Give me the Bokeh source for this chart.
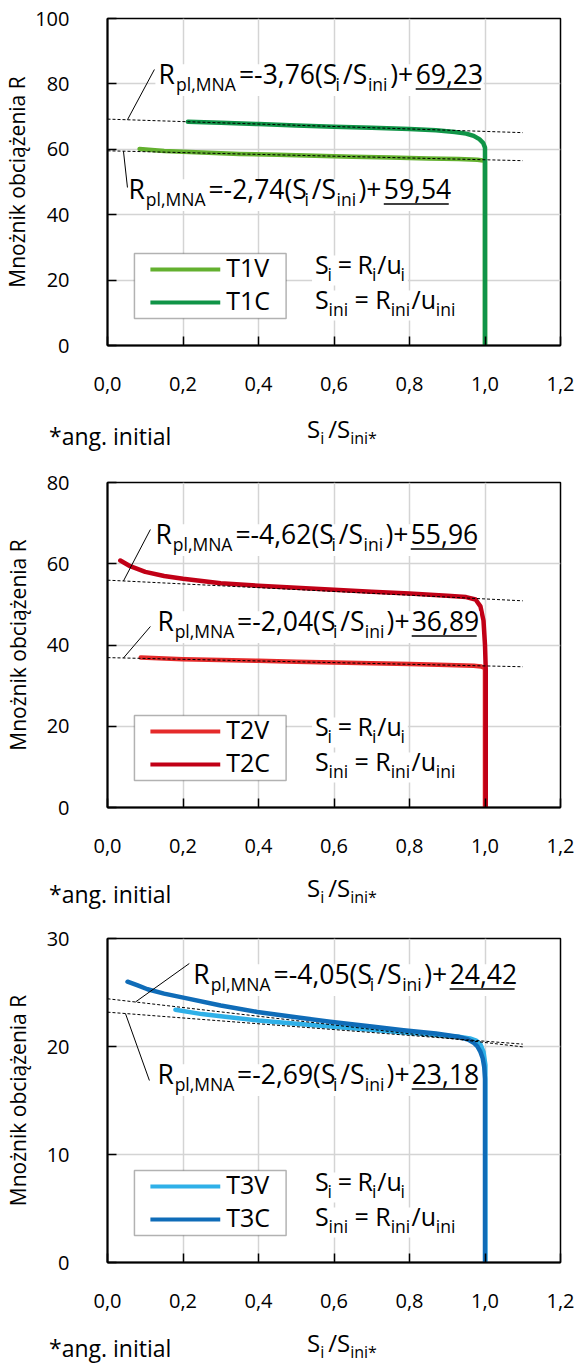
from bokeh.plotting import figure
from bokeh.models import Range1d, FixedTicker, Label, BoxAnnotation, Div
from bokeh.layouts import column
from bokeh.embed import file_html
from bokeh.resources import INLINE

FONT = "Open Sans"

# ---------------- data ----------------
x_ticks = [0.0, 0.2, 0.4, 0.6, 0.8, 1.0, 1.2]
x_tick_labels = ["0,0", "0,2", "0,4", "0,6", "0,8", "1,0", "1,2"]
fit_x_end = 1.1
y_axis_title = "Mnożnik obciążenia R"
note_text = "*ang. initial"

# panel 1
p1_y_ticks = [0, 20, 40, 60, 80, 100]
t1v_x = [0.085, 0.15, 0.25, 0.35, 0.45, 0.55, 0.65, 0.75, 0.85, 0.93, 0.98, 0.995, 1.0, 1.0]
t1v_y = [60.1, 59.5, 59.0, 58.6, 58.3, 58.0, 57.75, 57.5, 57.2, 57.0, 56.8, 56.6, 56.3, 0.0]
t1c_x = [0.213, 0.3, 0.4, 0.5, 0.6, 0.7, 0.8, 0.87, 0.92, 0.95, 0.97, 0.985, 0.995, 1.0, 1.0]
t1c_y = [68.4, 68.1, 67.7, 67.3, 66.9, 66.6, 66.2, 65.8, 65.3, 64.8, 64.1, 63.1, 62.0, 60.5, 0.0]
p1_fit_slope = [-3.76, -2.74]      # upper (C), lower (V)
p1_fit_intercept = [69.23, 59.54]

# panel 2
p2_y_ticks = [0, 20, 40, 60, 80]
t2v_x = [0.088, 0.2, 0.3, 0.4, 0.5, 0.6, 0.7, 0.8, 0.9, 0.97, 0.99, 1.0, 1.0]
t2v_y = [36.9, 36.5, 36.3, 36.1, 35.9, 35.7, 35.5, 35.3, 35.05, 34.9, 34.7, 34.3, 0.0]
t2c_x = [0.034, 0.06, 0.1, 0.15, 0.2, 0.3, 0.4, 0.5, 0.6, 0.7, 0.8, 0.9, 0.95, 0.975, 0.988, 0.996, 1.0, 1.002, 1.002]
t2c_y = [60.8, 59.4, 58.0, 57.0, 56.3, 55.2, 54.6, 54.1, 53.6, 53.1, 52.65, 52.1, 51.8, 51.2, 49.5, 46.0, 40.0, 34.0, 0.0]
p2_fit_slope = [-4.62, -2.04]
p2_fit_intercept = [55.96, 36.89]

# panel 3
p3_y_ticks = [0, 10, 20, 30]
t3v_x = [0.18, 0.25, 0.3, 0.4, 0.5, 0.59, 0.7, 0.784, 0.86, 0.93, 0.96, 0.977, 0.988, 0.996, 1.001, 1.001]
t3v_y = [23.4, 23.0, 22.8, 22.4, 22.1, 21.85, 21.55, 21.3, 21.1, 20.9, 20.75, 20.55, 20.2, 19.5, 18.3, 0.0]
t3c_x = [0.053, 0.08, 0.106, 0.15, 0.204, 0.3, 0.397, 0.5, 0.59, 0.7, 0.784, 0.87, 0.929, 0.955, 0.97, 0.98, 0.988, 0.994, 0.998, 1.0, 1.0]
t3c_y = [26.0, 25.65, 25.3, 24.9, 24.5, 23.8, 23.2, 22.7, 22.3, 21.85, 21.5, 21.2, 20.9, 20.65, 20.35, 20.0, 19.5, 18.9, 18.1, 17.0, 0.0]
p3_fit_slope = [-4.05, -2.69]
p3_fit_intercept = [24.42, 23.18]

# ---------------- styling / layout ----------------
WID = {c: 0.572 for c in "0123456789"}
WID.update({',': .245, '.': .266, ' ': .26, '(': .296, ')': .296, '+': .572, '=': .572,
            '-': .322, '/': .367, '*': .551, 'R': .62, 'S': .539, 'M': .903, 'N': .756,
            'A': .633, 'p': .613, 'l': .253, 'i': .253, 'n': .614, 'u': .614})
SHIFT = 0.45   # compensation of the label baseline placement (em)


def tw(s, size):
    return sum(WID.get(c, .56) for c in s) * size * 0.97


L, FW, XMAX = 106, 454, 1.2


class Conv:
    def __init__(self, top, h, ymax):
        self.top, self.h, self.ymax = top, h, ymax

    def x(self, px):
        return (px - L) / FW * XMAX

    def y(self, py):
        return (self.top + self.h - py) / self.h * self.ymax


def fmt(v):
    return f"{v:.2f}".replace(".", ",")


def add_label(p, cv, xpx, ypx, text, size, align="left"):
    p.add_layout(Label(x=cv.x(xpx), y=cv.y(ypx - SHIFT * size), text=text, text_font=FONT,
                       text_font_size=f"{size}px", text_baseline="alphabetic",
                       text_align=align, text_color="black"))


def rich(p, cv, x0, base, pieces, main, sub, drop, right=None, bg=False):
    """pieces: (text, kind, pre_gap_in_px)"""
    sizes = {'m': main, 's': sub}
    widths = [tw(t, sizes[k]) for t, k, g in pieces]
    pre = [g for t, k, g in pieces]
    natural = sum(widths) + sum(pre[1:])
    gap = 0.0
    if right is not None and len(pieces) > 1:
        gap = (right - x0 - natural) / (len(pieces) - 1)
    total = natural + gap * (len(pieces) - 1)
    if bg:
        p.add_layout(BoxAnnotation(left=cv.x(x0 - 3), right=cv.x(x0 + total + 3),
                                   top=cv.y(base - main * 0.8), bottom=cv.y(base + drop + 4),
                                   fill_color="white", fill_alpha=1.0, line_color=None))
    spans = []
    x = x0
    for i, (t, k, g) in enumerate(pieces):
        if i > 0:
            x += gap + g
        add_label(p, cv, x, base + (drop if k == 's' else 0), t, sizes[k])
        spans.append((x, x + widths[i]))
        x += widths[i]
    return spans


def html_text(left, base, size, inner):
    top = base - 0.888 * size
    return (f'<span style="position:absolute;left:{left}px;top:{top:.1f}px;'
            f'font-family:\'{FONT}\';font-size:{size}px;line-height:1;white-space:nowrap;'
            f'color:black">{inner}</span>')


def sub_html(t, size, drop):
    return (f'<span style="font-size:{size}px;position:relative;top:{drop}px;'
            f'line-height:1">{t}</span>')


MAIN_BOTTOM = 62
panels = [
    dict(top=0, ftop=18, fh=327, ymax=100, ticks=p1_y_ticks, lab_standoff=4,
         series=[("T1V", t1v_x, t1v_y, "#63b02f"), ("T1C", t1c_x, t1c_y, "#109447")],
         slopes=p1_fit_slope, inters=p1_fit_intercept,
         texts=[(157, 85, 480, 126, (153, 69)), (127, 200, 448, 122, (126, 187))],
         xlab_off=93, note_off=100, bottom=464),
    dict(top=464, ftop=18, fh=325, ymax=80, ticks=p2_y_ticks, lab_standoff=15,
         series=[("T2V", t2v_x, t2v_y, "#e52a2a"), ("T2C", t2c_x, t2c_y, "#c10016")],
         slopes=p2_fit_slope, inters=p2_fit_intercept,
         texts=[(154, 81, 475, 122, (149, 65)), (156, 168, 476, 122, (149, 162))],
         xlab_off=90, note_off=96, bottom=920),
    dict(top=920, ftop=18, fh=324, ymax=30, ticks=p3_y_ticks, lab_standoff=15,
         series=[("T3V", t3v_x, t3v_y, "#2fb0e8"), ("T3C", t3c_x, t3c_y, "#0f6cb8")],
         slopes=p3_fit_slope, inters=p3_fit_intercept,
         texts=[(192, 65, 514, 134, (188, 43)), (156, 165, 476, 124, (148, 160))],
         xlab_off=90, note_off=95, bottom=1363),
]

KERN = -1.5
figs = []
for cfg in panels:
    cv = Conv(cfg["ftop"], cfg["fh"], cfg["ymax"])
    fb = cfg["ftop"] + cfg["fh"]
    main_h = fb + MAIN_BOTTOM
    p = figure(width=574, height=main_h, x_range=Range1d(0, XMAX), y_range=Range1d(0, cfg["ymax"]),
               output_backend="svg", toolbar_location=None,
               min_border_left=L, min_border_right=574 - L - FW, min_border_top=cfg["ftop"],
               min_border_bottom=MAIN_BOTTOM)
    p.background_fill_color = "white"
    p.border_fill_color = "white"
    p.outline_line_color = "black"
    p.outline_line_width = 1.5
    p.outline_line_alpha = 1.0

    p.xaxis.ticker = FixedTicker(ticks=x_ticks)
    p.xaxis.major_label_overrides = {t: s for t, s in zip(x_ticks, x_tick_labels)}
    p.yaxis.ticker = FixedTicker(ticks=cfg["ticks"])
    p.xgrid.ticker = FixedTicker(ticks=x_ticks)
    p.ygrid.ticker = FixedTicker(ticks=cfg["ticks"])
    for g in (p.xgrid, p.ygrid):
        g.grid_line_color = "#d4d4d4"
        g.grid_line_width = 1.5

    for ax in (p.xaxis, p.yaxis):
        ax.major_tick_in = 9
        ax.major_tick_out = 0
        ax.minor_tick_in = 0
        ax.minor_tick_out = 0
        ax.major_tick_line_color = "black"
        ax.major_tick_line_width = 1.5
        ax.axis_line_color = "black"
        ax.axis_line_width = 2
        ax.major_label_text_font = FONT
        ax.major_label_text_font_size = "20px"
        ax.major_label_text_color = "black"
    p.xaxis.major_label_standoff = 31
    p.yaxis.major_label_standoff = 38
    p.yaxis.axis_label = y_axis_title
    p.yaxis.axis_label_text_font = FONT
    p.yaxis.axis_label_text_font_size = "21px"
    p.yaxis.axis_label_text_font_style = "normal"
    p.yaxis.axis_label_text_color = "black"
    p.yaxis.axis_label_standoff = cfg["lab_standoff"] - 3

    # data curves
    for name, xs, ys, col in cfg["series"]:
        p.line(xs, ys, line_color=col, line_width=4.5, line_join="round", line_cap="round")
    # fitted trend lines
    for a, b in zip(cfg["slopes"], cfg["inters"]):
        p.line([0, fit_x_end], [b, b + a * fit_x_end], line_color="black", line_width=1,
               line_dash="3 2")

    # formulas
    lx0, ly0, lx1, ly1 = [], [], [], []
    ux0, uy0, ux1 = [], [], []
    for (a, b), (x0, base, right, lead_x, lead_end) in zip(zip(cfg["slopes"], cfg["inters"]), cfg["texts"]):
        pieces = [("R", 'm', 0), ("pl,MNA", 's', KERN), ("=" + fmt(a) + "(S", 'm', 2), ("i", 's', KERN),
                  ("/S", 'm', 0), ("ini", 's', KERN), (")+", 'm', 0), (fmt(b), 'm', 0)]
        spans = rich(p, cv, x0, base, pieces, 26.5, 17.5, 6.5, right=right, bg=True)
        nx0, nx1 = spans[-1]
        ux0.append(cv.x(nx0)); ux1.append(cv.x(right)); uy0.append(cv.y(base + 3.5))
        xs = cv.x(lead_x)
        lx0.append(xs); ly0.append(b + a * xs)
        lx1.append(cv.x(lead_end[0])); ly1.append(cv.y(lead_end[1]))
    p.segment(x0=lx0, y0=ly0, x1=lx1, y1=ly1, line_color="black", line_width=1, level="overlay")
    p.segment(x0=ux0, y0=uy0, x1=ux1, y1=uy0, line_color="black", line_width=1.5, level="overlay")

    # legend (Excel style box)
    p.add_layout(BoxAnnotation(left=cv.x(133), right=cv.x(285), top=cv.y(fb - 92), bottom=cv.y(fb - 27),
                               fill_color="white", fill_alpha=1.0, line_color="black", line_width=1.5))
    gx0, gx1, gy, gc = [], [], [], []
    for (name, xs, ys, col), off in zip(cfg["series"], (76, 43)):
        gx0.append(cv.x(149)); gx1.append(cv.x(219)); gy.append(cv.y(fb - off)); gc.append(col)
        add_label(p, cv, 225, fb - off + 9, name, 25)
    p.segment(x0=gx0, y0=gy, x1=gx1, y1=gy, line_color=gc, line_width=4, level="overlay")

    # definitions text
    rich(p, cv, 314, fb - 70, [("S", 'm', 0), ("i", 's', KERN), ("=", 'm', 5), ("R", 'm', 5),
                               ("i", 's', KERN), ("/u", 'm', 0), ("i", 's', KERN)],
         25, 17.5, 6, right=404, bg=True)
    rich(p, cv, 314, fb - 35, [("S", 'm', 0), ("ini", 's', KERN), ("=", 'm', 5), ("R", 'm', 5),
                               ("ini", 's', KERN), ("/u", 'm', 0), ("ini", 's', KERN)],
         25, 17.5, 6, right=454, bg=True)
    figs.append(p)

    # footer (HTML) with the x-axis title and the note
    fh = cfg["bottom"] - (cfg["top"] + main_h)
    yl = fb + cfg["xlab_off"] - main_h
    yn = fb + cfg["note_off"] - main_h
    xtitle = "S" + sub_html("i", 16, 6) + "&thinsp;/S" + sub_html("ini*", 16, 6)
    inner = html_text(307, yl, 24, xtitle) + html_text(49, yn, 23, note_text)
    html = (f'<div style="position:relative;width:574px;height:{fh}px;overflow:visible;'
            f'margin:0;padding:0">{inner}</div>')
    figs.append(Div(text=html, width=574, height=fh, margin=0))

layout = column(*figs, spacing=0)
open("out.html", "w").write(file_html(layout, INLINE))
